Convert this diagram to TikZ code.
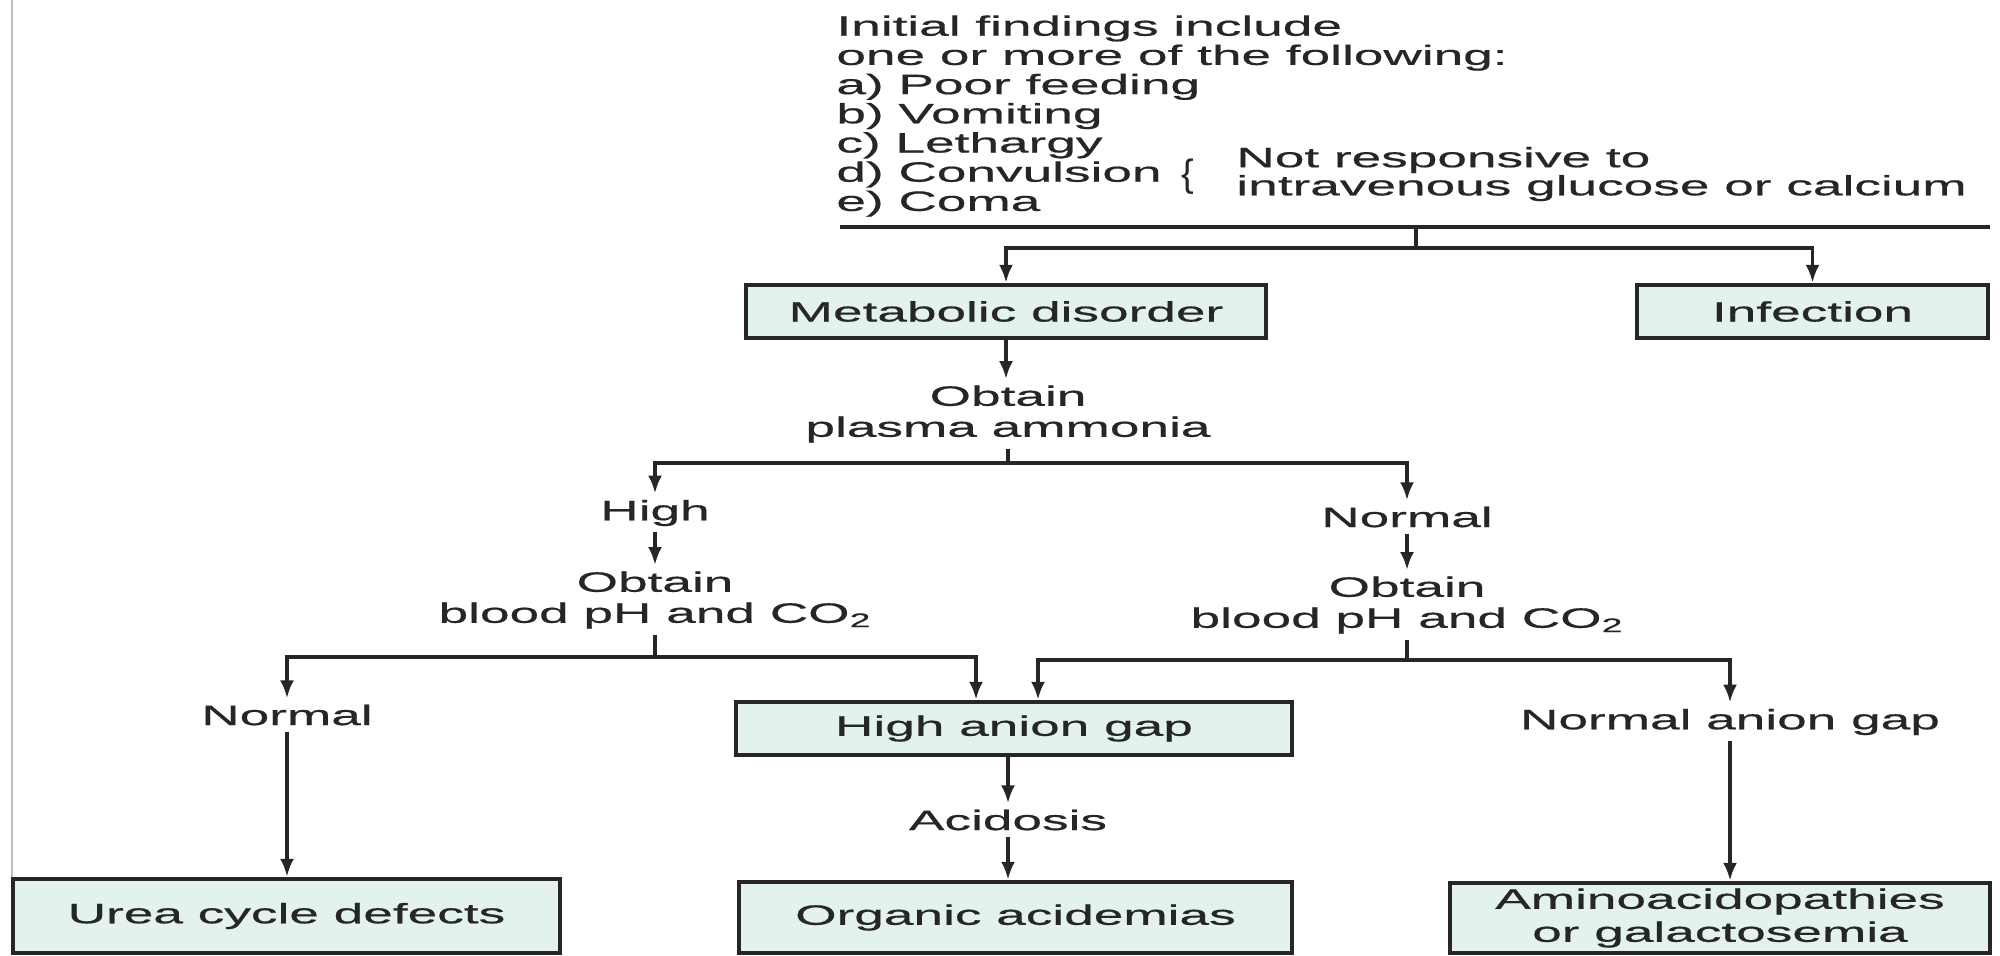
\documentclass[tikz,border=0pt]{standalone}
\usepackage{fontspec}
\setmainfont[FakeStretch=1.9,FakeBold=0.6]{Liberation Sans}
\newfontfamily\bracefont{Liberation Sans}
\usetikzlibrary{arrows.meta}
\definecolor{boxfill}{RGB}{228,242,236}
\definecolor{ink}{RGB}{38,38,38}
\begin{document}
\begin{tikzpicture}[x=0.5pt,y=-0.5pt,
  txt/.style={text=ink, font=\fontsize{14}{15.5}\selectfont, inner sep=3pt, align=center},
  box/.style={draw=ink, line width=2.2pt, fill=boxfill, text=ink, font=\fontsize{14}{16.5}\selectfont, align=center, inner sep=0pt},
  conn/.style={draw=ink, line width=1.8pt},
  arr/.style={conn, -{Latex[length=9pt,width=7pt]}}
]
\useasboundingbox (0,0) rectangle (2000,955);
\draw[black!25, line width=1pt] (12,0) -- (12,955);

% top text
\node[txt, align=left, anchor=north west, inner sep=0pt, font=\fontsize{14}{14.6}\selectfont] (find) at (836,15)
  {Initial findings include\\one or more of the following:\\a) Poor feeding\\b) Vomiting\\c) Lethargy\\d) Convulsion\\e) Coma};
\node[text=ink, inner sep=0pt, font={\fontsize{19}{19}\bracefont}] (br) at (1188,177) {\{};
\node[txt, align=left, anchor=west, inner sep=0pt, font=\fontsize{14}{13}\selectfont] (notr) at (1236,174)
  {Not responsive to\\intravenous glucose or calcium};

% boxes
\node[box, minimum width=260pt, minimum height=26.5pt] (meta) at (1006,311.5) {Metabolic disorder};
\node[box, minimum width=175.5pt, minimum height=26.5pt] (inf) at (1812.5,311.5) {Infection};
\node[box, minimum width=278pt, minimum height=26.5pt] (hag) at (1014,728.5) {High anion gap};
\node[box, minimum width=273.5pt, minimum height=37pt] (urea) at (286.5,916) {Urea cycle defects};
\node[box, minimum width=276.5pt, minimum height=35.5pt] (org) at (1015.5,917.5) {Organic acidemias};
\node[box, minimum width=270pt, minimum height=35pt] (amino) at (1720,918) {Aminoacidopathies\\or galactosemia};

% text nodes
\node[txt] (obA) at (1008,414) {Obtain\\plasma ammonia};
\node[txt] (high) at (655,513) {High};
\node[txt] (normA) at (1407,517) {Normal};
\node[txt] (obB) at (655,600) {Obtain\\blood pH and CO\textsubscript{2}};
\node[txt] (obC) at (1407,605) {Obtain\\blood pH and CO\textsubscript{2}};
\node[txt] (normB) at (287,715) {Normal};
\node[txt] (nag) at (1730,722) {Normal anion gap};
\node[txt] (acid) at (1008,820) {Acidosis};

% connectors
\coordinate (ruleL) at (840,227);
\coordinate (ruleR) at (1990,227);
\coordinate (t1) at (1416,227);
\coordinate (j1) at (1416,248);
\draw[conn] (ruleL) -- (ruleR);
\draw[conn] (t1) -- (j1);
\draw[arr] (j1) -| (meta.north);
\draw[arr] (j1) -| (inf.north);

\draw[arr] (meta.south) -- (meta.south |- obA.north);
\coordinate (j2) at (1008,463);
\draw[conn] (obA.south) -- (j2);
\draw[arr] (j2) -| (high.north);
\draw[arr] (j2) -| (normA.north);

\draw[arr] (high.south) -- (obB.north);
\draw[arr] (normA.south) -- (obC.north);

\coordinate (j3) at (655,657);
\draw[conn] (obB.south) -- (j3);
\draw[arr] (j3) -| (normB.north);
\draw[arr] (j3) -| ([xshift=-19pt]hag.north);

\coordinate (j4) at (1407,660);
\draw[conn] (obC.south) -- (j4);
\draw[arr] (j4) -| ([xshift=12pt]hag.north);
\draw[arr] (j4) -| (nag.north);

\draw[arr] (normB.south) -- (normB.south |- urea.north);
\draw[arr] (hag.south -| acid.north) -- (acid.north);
\draw[arr] (acid.south) -- (acid.south |- org.north);
\draw[arr] (nag.south) -- (nag.south |- amino.north);
\end{tikzpicture}
\end{document}
